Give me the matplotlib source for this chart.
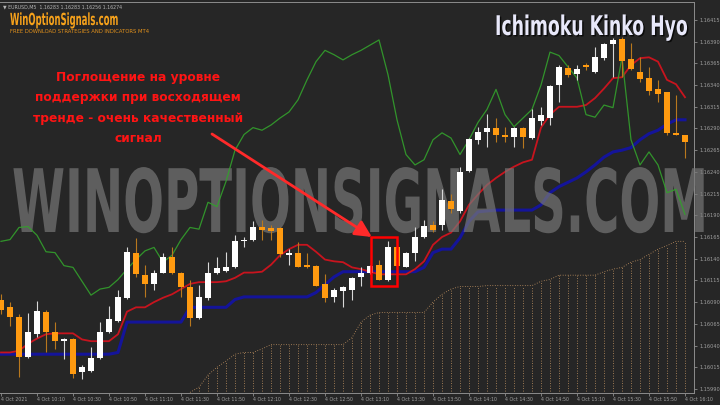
import numpy as np
import matplotlib.pyplot as plt
import matplotlib.colors as mcolors
from matplotlib.patheffects import AbstractPathEffect
from matplotlib.transforms import Affine2D
from matplotlib.patches import Rectangle

# EURUSD M5 candles, 4 Oct 2021 09:50 .. 16:10
opens = [1.16093, 1.16084, 1.16073, 1.16027, 1.16053, 1.16079, 1.16055, 1.16045, 1.16047, 1.16009,
         1.16011, 1.16026, 1.16055, 1.16068, 1.16095, 1.16147, 1.16121, 1.16111, 1.16124, 1.16142,
         1.16124, 1.16107, 1.16072, 1.16095, 1.16123, 1.16126, 1.16130, 1.16160, 1.16161, 1.16176,
         1.16175, 1.16175, 1.16144, 1.16146, 1.16133, 1.16132, 1.16111, 1.16096, 1.16103, 1.16104,
         1.16119, 1.16123, 1.16133, 1.16116, 1.16154, 1.16131, 1.16146, 1.16165, 1.16179, 1.16179,
         1.16206, 1.16195, 1.16241, 1.16277, 1.16286, 1.16291, 1.16283, 1.16280, 1.16290, 1.16279,
         1.16299, 1.16302, 1.16340, 1.16360, 1.16353, 1.16362, 1.16355, 1.16371, 1.16387, 1.16393,
         1.16370, 1.16355, 1.16348, 1.16336, 1.16332, 1.16285, 1.16283]
highs = [1.16099, 1.16090, 1.16076, 1.16078, 1.16091, 1.16081, 1.16067, 1.16049, 1.16049, 1.16018,
         1.16038, 1.16067, 1.16085, 1.16104, 1.16153, 1.16164, 1.16133, 1.16127, 1.16147, 1.16154,
         1.16125, 1.16116, 1.16110, 1.16136, 1.16142, 1.16148, 1.16167, 1.16165, 1.16183, 1.16185,
         1.16179, 1.16176, 1.16151, 1.16159, 1.16147, 1.16133, 1.16122, 1.16106, 1.16108, 1.16119,
         1.16130, 1.16133, 1.16139, 1.16160, 1.16155, 1.16148, 1.16177, 1.16185, 1.16183, 1.16220,
         1.16214, 1.16246, 1.16279, 1.16292, 1.16307, 1.16302, 1.16292, 1.16292, 1.16292, 1.16313,
         1.16315, 1.16340, 1.16363, 1.16363, 1.16363, 1.16366, 1.16384, 1.16389, 1.16394, 1.16395,
         1.16389, 1.16372, 1.16361, 1.16346, 1.16332, 1.16328, 1.16283]
lows = [1.16076, 1.16062, 1.16004, 1.16026, 1.16050, 1.16032, 1.16036, 1.16024, 1.16003, 1.16001,
        1.16009, 1.16024, 1.16054, 1.16067, 1.16094, 1.16119, 1.16096, 1.16104, 1.16123, 1.16122,
        1.16096, 1.16062, 1.16070, 1.16093, 1.16122, 1.16125, 1.16129, 1.16154, 1.16160, 1.16162,
        1.16162, 1.16142, 1.16133, 1.16130, 1.16129, 1.16108, 1.16090, 1.16090, 1.16084, 1.16093,
        1.16108, 1.16122, 1.16115, 1.16114, 1.16131, 1.16130, 1.16137, 1.16164, 1.16171, 1.16173,
        1.16193, 1.16193, 1.16240, 1.16272, 1.16269, 1.16275, 1.16275, 1.16269, 1.16268, 1.16278,
        1.16294, 1.16294, 1.16320, 1.16349, 1.16346, 1.16357, 1.16354, 1.16369, 1.16349, 1.16349,
        1.16357, 1.16344, 1.16329, 1.16321, 1.16283, 1.16282, 1.16256]
closes = [1.16081, 1.16073, 1.16027, 1.16055, 1.16080, 1.16055, 1.16045, 1.16048, 1.16007, 1.16015,
          1.16026, 1.16056, 1.16070, 1.16096, 1.16148, 1.16122, 1.16111, 1.16124, 1.16142, 1.16123,
          1.16107, 1.16072, 1.16096, 1.16124, 1.16129, 1.16131, 1.16160, 1.16162, 1.16177, 1.16173,
          1.16172, 1.16145, 1.16147, 1.16131, 1.16130, 1.16109, 1.16095, 1.16104, 1.16107, 1.16118,
          1.16123, 1.16132, 1.16116, 1.16153, 1.16132, 1.16147, 1.16165, 1.16178, 1.16173, 1.16208,
          1.16197, 1.16240, 1.16278, 1.16286, 1.16290, 1.16283, 1.16280, 1.16290, 1.16280, 1.16302,
          1.16305, 1.16339, 1.16361, 1.16352, 1.16358, 1.16361, 1.16372, 1.16387, 1.16392, 1.16368,
          1.16359, 1.16347, 1.16333, 1.16330, 1.16285, 1.16283, 1.16274]

# Ichimoku lines
tenkan = [1.16032, 1.16032, 1.16034, 1.16042, 1.16048, 1.16053, 1.16054, 1.16054, 1.16054, 1.16047,
          1.16045, 1.16045, 1.16045, 1.16053, 1.16079, 1.16084, 1.16084, 1.16090, 1.16095, 1.16099,
          1.16105, 1.16111, 1.16113, 1.16113, 1.16113, 1.16114, 1.16118, 1.16124, 1.16124, 1.16125,
          1.16133, 1.16144, 1.16151, 1.16156, 1.16156, 1.16148, 1.16139, 1.16137, 1.16136, 1.16130,
          1.16128, 1.16125, 1.16122, 1.16122, 1.16122, 1.16122, 1.16128, 1.16137, 1.16156, 1.16165,
          1.16170, 1.16183, 1.16202, 1.16214, 1.16225, 1.16233, 1.16240, 1.16246, 1.16251, 1.16254,
          1.16291, 1.16306, 1.16315, 1.16315, 1.16315, 1.16317, 1.16325, 1.16336, 1.16348, 1.16349,
          1.16363, 1.16371, 1.16372, 1.16367, 1.16346, 1.16341, 1.16326]
kijun = [1.16030, 1.16030, 1.16030, 1.16030, 1.16030, 1.16030, 1.16030, 1.16030, 1.16030, 1.16030,
         1.16030, 1.16030, 1.16030, 1.16032, 1.16067, 1.16067, 1.16067, 1.16067, 1.16067, 1.16067,
         1.16067, 1.16084, 1.16084, 1.16084, 1.16084, 1.16084, 1.16093, 1.16096, 1.16096, 1.16096,
         1.16096, 1.16096, 1.16096, 1.16096, 1.16096, 1.16101, 1.16110, 1.16119, 1.16125, 1.16125,
         1.16125, 1.16125, 1.16125, 1.16125, 1.16125, 1.16125, 1.16125, 1.16130, 1.16147, 1.16151,
         1.16151, 1.16164, 1.16183, 1.16194, 1.16195, 1.16196, 1.16196, 1.16196, 1.16196, 1.16196,
         1.16202, 1.16216, 1.16223, 1.16228, 1.16233, 1.16240, 1.16248, 1.16257, 1.16263, 1.16265,
         1.16268, 1.16277, 1.16284, 1.16288, 1.16295, 1.16300, 1.16300]
chikou = [1.16160, 1.16162, 1.16176, 1.16177, 1.16167, 1.16148, 1.16147, 1.16132, 1.16130, 1.16114,
          1.16098, 1.16105, 1.16107, 1.16116, 1.16128, 1.16139, 1.16149, 1.16153, 1.16136, 1.16144,
          1.16162, 1.16176, 1.16174, 1.16205, 1.16200, 1.16229, 1.16265, 1.16283, 1.16291, 1.16288,
          1.16294, 1.16302, 1.16309, 1.16323, 1.16346, 1.16367, 1.16380, 1.16375, 1.16369, 1.16375,
          1.16380, 1.16386, 1.16392, 1.16352, 1.16300, 1.16260, 1.16248, 1.16254, 1.16277, 1.16285,
          1.16279, 1.16260, 1.16277, 1.16297, 1.16312, 1.16335, 1.16306, 1.16292, 1.16302, 1.16312,
          1.16340, 1.16378, 1.16374, 1.16361, 1.16348, 1.16306, 1.16303, 1.16317, 1.16314, 1.16372,
          1.16277, 1.16248, 1.16263, 1.16248, 1.16216, 1.16220, 1.16191]
# Kumo (cloud) edges, empty before bar 21
span_a = [None] * 21 + [
    1.15986, 1.15992, 1.16006, 1.16015, 1.16022, 1.16030, 1.16032, 1.16032, 1.16036, 1.16041,
    1.16041, 1.16041, 1.16041, 1.16041, 1.16041, 1.16041, 1.16041, 1.16041, 1.16049, 1.16067,
    1.16075, 1.16078, 1.16078, 1.16078, 1.16078, 1.16078, 1.16078, 1.16090, 1.16099, 1.16105,
    1.16108, 1.16108, 1.16108, 1.16109, 1.16109, 1.16109, 1.16109, 1.16109, 1.16109, 1.16114,
    1.16116, 1.16121, 1.16121, 1.16121, 1.16121, 1.16121, 1.16125, 1.16128, 1.16130, 1.16136,
    1.16139, 1.16145, 1.16151, 1.16155, 1.16160, 1.16160]
span_b = [None] * 21 + [1.15960] * 56

price_ticks = [1.16415, 1.16390, 1.16365, 1.16340, 1.16315, 1.16290, 1.16265, 1.16240, 1.16215,
               1.16190, 1.16165, 1.16140, 1.16115, 1.16090, 1.16065, 1.16040, 1.16015, 1.15990]
time_labels = ["4 Oct 2021", "4 Oct 10:10", "4 Oct 10:30", "4 Oct 10:50", "4 Oct 11:10",
               "4 Oct 11:30", "4 Oct 11:50", "4 Oct 12:10", "4 Oct 12:30", "4 Oct 12:50",
               "4 Oct 13:10", "4 Oct 13:30", "4 Oct 13:50", "4 Oct 14:10", "4 Oct 14:30",
               "4 Oct 14:50", "4 Oct 15:10", "4 Oct 15:30", "4 Oct 15:50", "4 Oct 16:10"]

signal_bars = [42, 43]
note = "Поглощение на уровне\nподдержки при восходящем\nтренде - очень качественный\nсигнал"

BG = "#262626"
GRID = "#8c8c8c"
BULL = "#ffffff"
BEAR = "#ff9a10"
CLOUD = "#c39462"


class Squeeze(AbstractPathEffect):
    """Draw text glyphs narrowed horizontally around the text origin."""

    def __init__(self, sx=1.0, offset=(0, 0), color=None):
        super().__init__(offset)
        self.sx = sx
        self.color = None if color is None else mcolors.to_rgba(color)

    def draw_path(self, renderer, gc, tpath, affine, rgbFace=None):
        ox, oy = affine.transform((0, 0))
        squeeze = Affine2D().translate(-ox, -oy).scale(self.sx, 1.0).translate(ox, oy)
        affine = affine + squeeze + self._offset_transform(renderer)
        if self.color is not None:
            rgbFace = self.color
        renderer.draw_path(gc, tpath, affine, rgbFace)


def fit_width(fig, text, width_px, shadow=None):
    # narrow a text so its drawn width matches width_px
    renderer = fig.canvas.get_renderer()
    w = text.get_window_extent(renderer).width
    sx = width_px / w
    effects = []
    if shadow is not None:
        effects.append(Squeeze(sx, offset=(1.0, -1.0), color=shadow))
    effects.append(Squeeze(sx))
    text.set_path_effects(effects)


W, H = 720, 405
fig = plt.figure(figsize=(7.2, 4.05), dpi=100, facecolor=BG)
ax = fig.add_axes([0, 12 / H, 694 / W, 391 / H], facecolor=BG)

n = len(opens)
x = np.arange(n)
o = np.array(opens)
c = np.array(closes)
hi = np.array(highs)
lo = np.array(lows)
bull = c >= o

# cloud hatch
a = np.array([np.nan if v is None else v for v in span_a])
b = np.array([np.nan if v is None else v for v in span_b])
ok = ~np.isnan(a)
ax.vlines(x[ok], b[ok], a[ok], color=CLOUD, lw=0.6, linestyles=(0, (1, 2)), zorder=1)
ax.plot(x, a, color=CLOUD, lw=0.6, ls=(0, (1, 2)), zorder=1)
ax.plot(x, b, color=CLOUD, lw=0.6, ls=(0, (1, 2)), zorder=1)

# ichimoku lines
ax.plot(x, kijun, color="#14149a", lw=2.2, zorder=2)
ax.plot(x, tenkan, color="#c8141e", lw=1.3, zorder=2)

# watermark between lines and candles
wm = ax.text(12 / W, 1 - 232 / H, "WINOPTIONSIGNALS.COM", transform=fig.transFigure,
             fontsize=63, fontweight="bold", color="#777777", alpha=0.7,
             ha="left", va="baseline", zorder=3, clip_on=False)

ax.plot(x, chikou, color="#33a02c", lw=0.9, alpha=0.9, zorder=3.5)

# candles
ax.vlines(x[bull], lo[bull], hi[bull], color="#d8d8d8", lw=0.8, zorder=4)
ax.vlines(x[~bull], lo[~bull], hi[~bull], color="#b8781e", lw=0.8, zorder=4)
body = np.maximum(np.abs(c - o), 0.000018)
ax.bar(x[bull], body[bull], bottom=np.minimum(o, c)[bull], width=0.72, color=BULL, zorder=5)
ax.bar(x[~bull], body[~bull], bottom=np.minimum(o, c)[~bull], width=0.72, color=BEAR, zorder=5)

# signal box around the engulfing pair
pad = 0.00005
bx0 = signal_bars[0] - 0.9
bx1 = signal_bars[-1] + 0.95
by0 = min(lows[signal_bars[0]:signal_bars[-1] + 1]) - pad
by1 = max(highs[signal_bars[0]:signal_bars[-1] + 1]) + pad
ax.add_patch(Rectangle((bx0, by0), bx1 - bx0, by1 - by0, fill=False, ec="#ff0000", lw=1.8, zorder=6))
ax.annotate("", xy=(bx0 + 0.1, by1), xytext=(212 / W, 1 - 134 / H), textcoords="figure fraction",
            arrowprops=dict(arrowstyle="-|>,head_length=1.0,head_width=0.5", color="#ff2a2a",
                            lw=2.0, shrinkA=0, shrinkB=0), zorder=6)

# axes
ax.set_xlim(-1 / 9, 693 / 9)
ax.set_ylim(1.159853, 1.164357)
ax.yaxis.tick_right()
ax.set_yticks(price_ticks)
ax.set_yticklabels(["%.5f" % p for p in price_ticks])
ax.set_xticks(x[::4])
ax.set_xticklabels(time_labels)
for lbl in ax.get_xticklabels():
    lbl.set_horizontalalignment("left")
ax.tick_params(axis="y", colors=GRID, labelcolor="#a0a0a0", labelsize=3.6, length=2, width=0.6, pad=2)
ax.tick_params(axis="x", colors=GRID, labelcolor="#a0a0a0", labelsize=3.4, length=2, width=0.6, pad=1)
for side in ["right", "bottom", "top"]:
    ax.spines[side].set_color(GRID)
    ax.spines[side].set_linewidth(0.7)
ax.spines["left"].set_visible(False)

# header texts
fig.text(3 / W, 1 - 8.5 / H, "▼ EURUSD,M5  1.16283 1.16283 1.16256 1.16274",
         fontsize=3.4, color="#b4b4b4", ha="left", va="baseline")
logo = fig.text(10 / W, 1 - 25 / H, "WinOptionSignals.com", fontsize=12, fontweight="bold",
                color="#f7a21b", ha="left", va="baseline")
fig.text(10 / W, 1 - 33 / H, "FREE DOWNLOAD STRATEGIES AND INDICATORS MT4", fontsize=3.8,
         color="#e0901c", ha="left", va="baseline")
title = fig.text(495 / W, 1 - 35 / H, "Ichimoku Kinko Hyo", fontsize=19.5, fontweight="bold",
                 color="#e8e8fa", ha="left", va="baseline")
fig.text(138 / W, 1 - 108 / H, note, fontsize=8.8, fontweight="bold", color="#ff1414",
         ha="center", va="center", linespacing=1.75)

fig.canvas.draw()
fit_width(fig, wm, 696)
fit_width(fig, logo, 108)
fit_width(fig, title, 193, shadow="#0a0a0a")

fig.savefig("out.png", dpi=100, facecolor=BG)
